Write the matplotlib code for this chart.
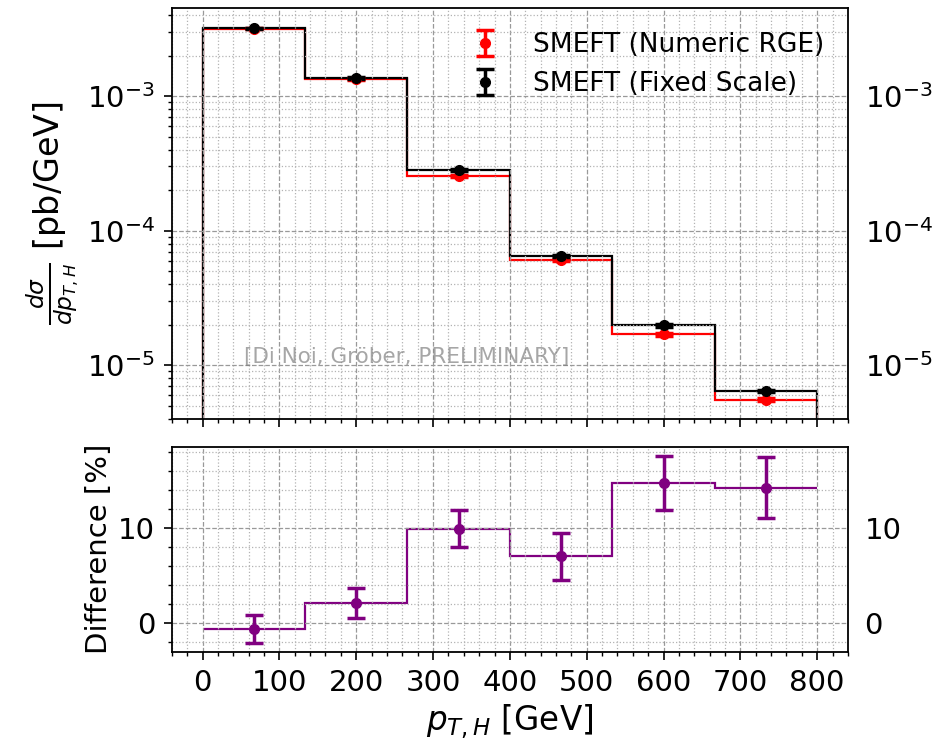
import numpy as np
import matplotlib
matplotlib.use("Agg")
import matplotlib.pyplot as plt
from matplotlib.ticker import AutoMinorLocator

# bin edges in p_T,H [GeV]
edges = [0, 133.33, 266.67, 400, 533.33, 666.67, 800]
centers = [66.67, 200, 333.33, 466.67, 600, 733.33]

# dsigma/dpT [pb/GeV]
xs_rge = [3.17e-3, 1.34e-3, 2.56e-4, 6.07e-5, 1.70e-5, 5.56e-6]
err_rge = [4.0e-5, 1.8e-5, 4.5e-6, 1.2e-6, 4.0e-7, 1.5e-7]
xs_fixed = [3.18e-3, 1.36e-3, 2.82e-4, 6.50e-5, 1.98e-5, 6.45e-6]
err_fixed = [4.0e-5, 1.8e-5, 4.5e-6, 1.2e-6, 4.0e-7, 1.5e-7]

# relative difference [%]
diff = [-0.6, 2.1, 9.9, 7.0, 14.7, 14.2]
diff_err = [1.45, 1.6, 1.95, 2.45, 2.85, 3.2]

fig, (ax, axd) = plt.subplots(2, 1, figsize=(9.39, 7.45), dpi=100, sharex=True,
                              gridspec_kw={'height_ratios': [2, 1]})
fig.subplots_adjust(left=0.183, right=0.903, top=0.989, bottom=0.125, hspace=0.09)

# top panel
ax.stairs(xs_rge, edges, baseline=1e-9, color='red', lw=1.6)
ax.stairs(xs_fixed, edges, baseline=1e-9, color='black', lw=1.6)
ax.errorbar(centers, xs_rge, yerr=err_rge, fmt='o', color='red', ms=7,
            elinewidth=2.5, capsize=6.5, capthick=2.5, label='SMEFT (Numeric RGE)')
ax.errorbar(centers, xs_fixed, yerr=err_fixed, fmt='o', color='black', ms=7,
            elinewidth=2.5, capsize=6.5, capthick=2.5, label='SMEFT (Fixed Scale)')
ax.set_yscale('log')
ax.set_ylim(4.0e-6, 4.5e-3)
ax.set_ylabel(r'$\frac{d\sigma}{dp_{T,H}}$ [pb/GeV]', fontsize=24)
ax.legend(loc='upper right', frameon=False, fontsize=19)
ax.text(0.107, 0.135, '[Di Noi, Gröber, PRELIMINARY]', transform=ax.transAxes,
        fontsize=15.5, color='grey', alpha=0.7)

# bottom panel
axd.stairs(diff, edges, baseline=None, color='purple', lw=1.6)
axd.errorbar(centers, diff, yerr=diff_err, fmt='o', color='purple', ms=7,
             elinewidth=2.5, capsize=6.5, capthick=2.5)
axd.set_ylabel('Difference [%]', fontsize=21)
axd.set_xlabel(r'$p_{T,H}$ [GeV]', fontsize=23.5)
axd.set_xlim(-40, 840)
axd.set_xticks(np.arange(0, 801, 100))
axd.xaxis.set_minor_locator(AutoMinorLocator(5))
axd.yaxis.set_minor_locator(AutoMinorLocator(5))

for a in (ax, axd):
    a.grid(which='major', ls='--', color='0.6', lw=0.9)
    a.grid(which='minor', ls=':', color='0.7', lw=0.9)
    a.tick_params(which='both', right=False, labelright=True, labelsize=21)
    a.tick_params(which='major', length=6, width=1.2, pad=6)
    a.tick_params(which='minor', length=3, width=1)
    for s in a.spines.values():
        s.set_linewidth(1.3)

fig.savefig('out.png')
